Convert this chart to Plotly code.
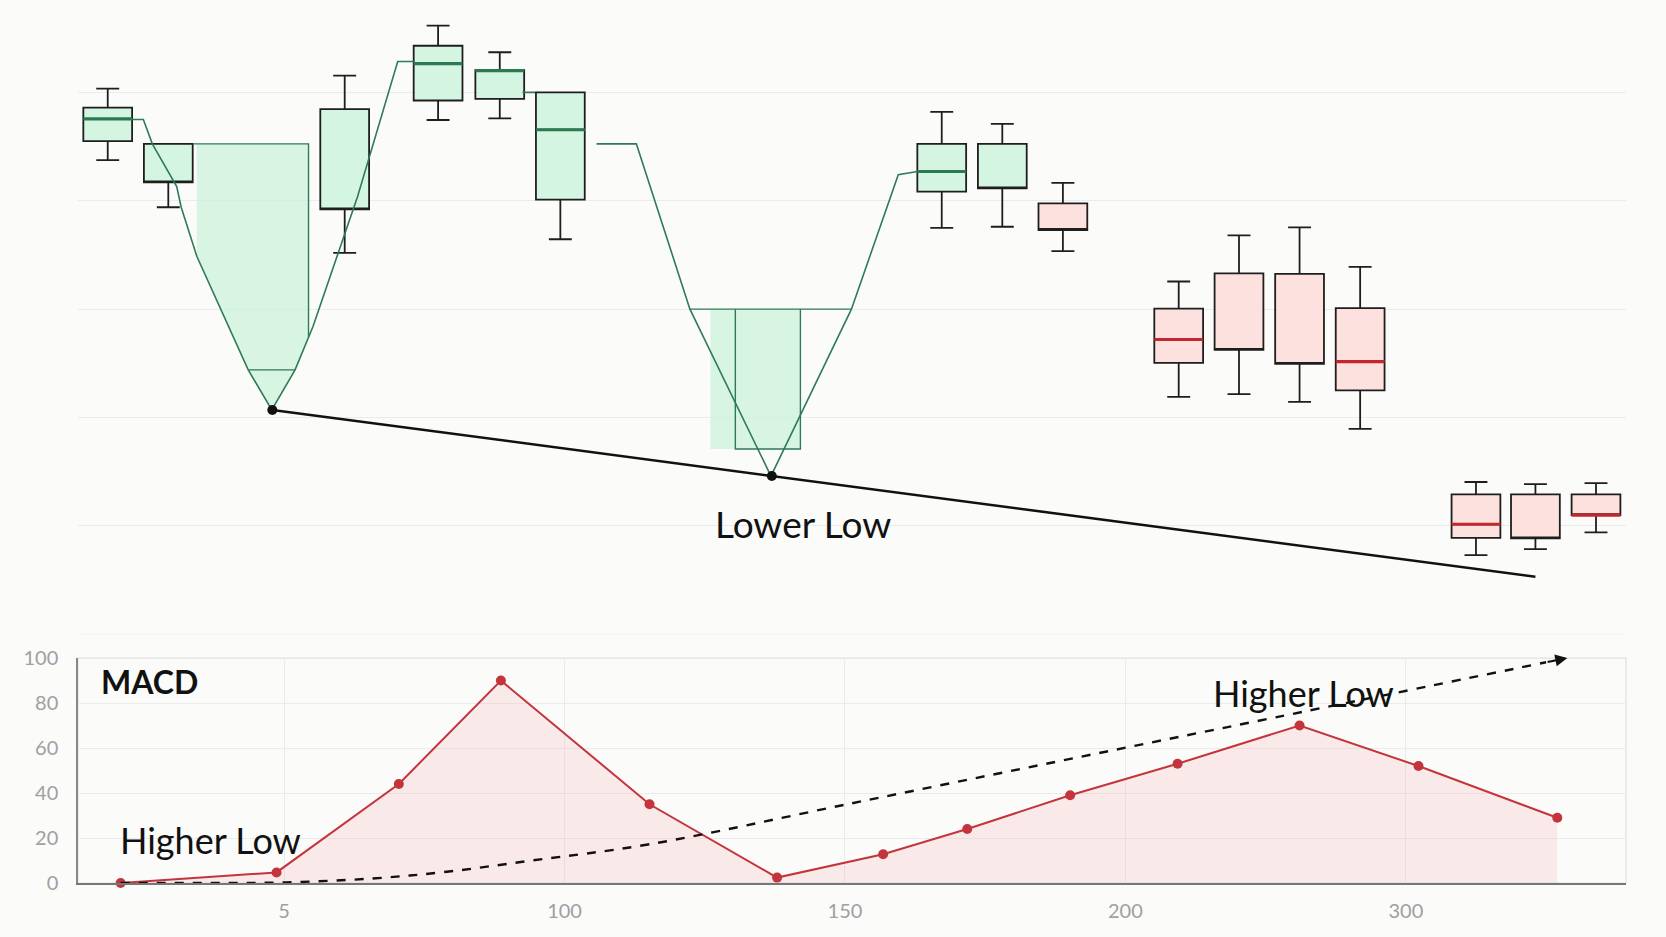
import plotly.graph_objects as go

# ---------------- data ----------------
tick_vals = [10, 20, 30, 40, 50]
tick_text = ["5", "100", "150", "200", "300"]

# top panel: green boxes
g_pos = [3.71, 5.87, 12.16, 15.49, 17.69, 19.85, 33.45, 35.61]
g_q1 = [91.0, 83.4, 78.4, 98.5, 98.8, 80.2, 81.7, 82.3]
g_q3 = [97.2, 90.5, 96.9, 108.6, 104.1, 100.0, 90.5, 90.5]
g_lo = [87.5, 78.8, 70.4, 94.9, 95.2, 72.9, 75.0, 75.2]
g_hi = [100.7, 90.5, 103.1, 112.3, 107.4, 100.0, 96.4, 94.2]
g_med = [95.1, None, None, 105.3, 104.0, 93.1, 85.4, None]

# top panel: red boxes
r_pos = [37.77, 41.90, 44.05, 46.21, 48.37, 52.50, 54.62, 56.78]
r_q1 = [74.6, 50.1, 52.5, 49.9, 45.0, 17.8, 17.7, 22.0]
r_q3 = [79.5, 60.1, 66.6, 66.5, 60.2, 25.8, 25.8, 25.8]
r_lo = [70.7, 43.8, 44.3, 42.9, 37.9, 14.6, 15.7, 18.8]
r_hi = [83.3, 65.1, 73.6, 75.1, 67.8, 28.1, 27.7, 27.9]
r_med = [None, 54.4, None, None, 50.3, 20.3, None, 22.0]

box_width = 1.74

# price path (green line)
price_x = [4.58, 4.98, 5.30, 6.17, 6.33, 6.89, 8.72, 9.56, 10.39, 11.03, 12.62, 14.05, 14.66, None,
           18.50, 18.95, None,
           21.14, 22.56, 24.47, 27.36, 30.23, 31.90, 32.58]
price_y = [95.0, 95.0, 90.5, 82.6, 78.8, 69.7, 48.8, 41.4, 48.8, 56.8, 80.8, 105.7, 105.7, None,
           100.0, 100.0, None,
           90.5, 90.5, 60.0, 29.2, 60.0, 84.8, 85.4]

# trough fills
trough1_x = [6.88, 10.87, 10.87, 10.39, 9.56, 8.72, 6.89, 6.88]
trough1_y = [90.5, 90.5, 54.8, 48.8, 41.4, 48.8, 69.7, 90.5]
trough1_edge_x = [6.77, 10.87, 10.87, None, 8.72, 10.39]
trough1_edge_y = [90.5, 90.5, 54.8, None, 48.8, 48.8]
trough2_x = [25.20, 28.41, 28.41, 25.20, 25.20]
trough2_y = [60.0, 60.0, 34.2, 34.2, 60.0]
trough2_edge_x = [24.47, 30.23, None, 26.09, 26.09, 28.41, 28.41]
trough2_edge_y = [60.0, 60.0, None, 60.0, 34.2, 34.2, 60.0]

# lower-low trend line
trend_x = [9.58, 27.39, 54.62]
trend_y = [41.4, 29.2, 10.6]
low_pts_x = [9.58, 27.39]
low_pts_y = [41.4, 29.2]

# MACD panel
macd_x = [4.17, 9.73, 14.09, 17.73, 23.03, 27.58, 31.36, 34.36, 38.03, 41.86, 46.21, 50.45, 55.40]
macd_y = [0.0, 4.7, 44.0, 90.0, 35.0, 2.4, 12.8, 24.0, 39.0, 53.0, 70.0, 52.0, 29.0]

hl_x = [4.17, 7.46, 10.08, 13.14, 15.80, 18.83, 23.07, 30.19, 37.77, 45.34, 55.0]
hl_y = [0.0, 0.0, 0.3, 2.0, 5.0, 10.0, 17.3, 35.3, 54.5, 73.6, 98.1]
arrow_tip = (55.76, 100.0)

# ---------------- figure ----------------
GREEN_LINE = "#2f7a57"
GREEN_FILL = "rgba(205,243,220,0.85)"
RED_FILL = "rgba(253,222,220,0.9)"
BOX_EDGE = "#1e1e1e"
RED_MED = "#c4262e"
GREEN_MED = "#2b7a52"
MACD_RED = "#c4343c"

fig = go.Figure()


def med_segments(pos, med):
    xs, ys = [], []
    for p, m in zip(pos, med):
        if m is None:
            continue
        xs += [p - box_width / 2, p + box_width / 2, None]
        ys += [m, m, None]
    return xs, ys


for pos, q1, q3, lo, hi, med, fill in [
    (g_pos, g_q1, g_q3, g_lo, g_hi, g_med, GREEN_FILL),
    (r_pos, r_q1, r_q3, r_lo, r_hi, r_med, RED_FILL),
]:
    fig.add_trace(go.Box(
        x=pos, q1=q1, q3=q3, lowerfence=lo, upperfence=hi,
        median=[m if m is not None else a for m, a in zip(med, q1)],
        width=box_width, whiskerwidth=0.47, fillcolor=fill,
        line=dict(color=BOX_EDGE, width=1.8), boxpoints=False,
        xaxis="x2", yaxis="y2", showlegend=False, hoverinfo="skip",
    ))

# trough fills
fig.add_trace(go.Scatter(x=trough1_x, y=trough1_y, fill="toself", fillcolor="rgba(200,242,215,0.7)",
                         line=dict(width=0), mode="lines", xaxis="x2", yaxis="y2", showlegend=False))
fig.add_trace(go.Scatter(x=trough2_x, y=trough2_y, fill="toself", fillcolor="rgba(200,242,215,0.7)",
                         line=dict(width=0), mode="lines", xaxis="x2", yaxis="y2", showlegend=False))
fig.add_trace(go.Scatter(x=trough1_edge_x, y=trough1_edge_y, mode="lines",
                         line=dict(color=GREEN_LINE, width=1.4), xaxis="x2", yaxis="y2", showlegend=False))
fig.add_trace(go.Scatter(x=trough2_edge_x, y=trough2_edge_y, mode="lines",
                         line=dict(color=GREEN_LINE, width=1.4), xaxis="x2", yaxis="y2", showlegend=False))

# price path
fig.add_trace(go.Scatter(x=price_x, y=price_y, mode="lines", connectgaps=False,
                         line=dict(color=GREEN_LINE, width=1.6), xaxis="x2", yaxis="y2", showlegend=False))

# medians
mx, my = med_segments(g_pos, g_med)
fig.add_trace(go.Scatter(x=mx, y=my, mode="lines", line=dict(color=GREEN_MED, width=3.2),
                         xaxis="x2", yaxis="y2", showlegend=False))
mx, my = med_segments(r_pos, r_med)
fig.add_trace(go.Scatter(x=mx, y=my, mode="lines", line=dict(color=RED_MED, width=3.2),
                         xaxis="x2", yaxis="y2", showlegend=False))

# trend line + lows
fig.add_trace(go.Scatter(x=trend_x, y=trend_y, mode="lines", line=dict(color="#111111", width=2.5),
                         xaxis="x2", yaxis="y2", showlegend=False))
fig.add_trace(go.Scatter(x=low_pts_x, y=low_pts_y, mode="markers", marker=dict(color="#111111", size=10),
                         xaxis="x2", yaxis="y2", showlegend=False))

# MACD
fig.add_trace(go.Scatter(x=macd_x, y=macd_y, mode="lines+markers", fill="tozeroy",
                         fillcolor="rgba(240,140,140,0.15)",
                         line=dict(color=MACD_RED, width=2),
                         marker=dict(color=MACD_RED, size=10),
                         xaxis="x", yaxis="y", showlegend=False, cliponaxis=False))
fig.add_trace(go.Scatter(x=hl_x, y=hl_y, mode="lines", line=dict(color="#111111", width=2.4, dash="dash", shape="spline"),
                         xaxis="x", yaxis="y", showlegend=False))

X_RANGE = [2.65, 57.85]
grid_c = "#ebebeb"
tick_font = dict(family="Lato", size=20, color="#a0a0a0")

fig.update_layout(
    width=1666, height=937,
    margin=dict(l=78, r=40, t=10, b=54, autoexpand=False),
    paper_bgcolor="#fbfbfa", plot_bgcolor="rgba(0,0,0,0)",
    font=dict(family="Lato", color="#111111"),
    showlegend=False,
    xaxis=dict(domain=[0, 1], range=X_RANGE, anchor="y", tickvals=tick_vals, ticktext=tick_text,
               showgrid=True, gridcolor=grid_c, zeroline=False, showline=True, linecolor="#777777",
               linewidth=1.5, ticks="", tickfont=tick_font, ticklabelstandoff=9, automargin=False),
    yaxis=dict(domain=[0, 0.2577], range=[0, 100], anchor="x", tickvals=[0, 20, 40, 60, 80, 100],
               showgrid=True, gridcolor=grid_c, zeroline=False, showline=True, linecolor="#888888",
               linewidth=1.5, ticks="", tickfont=tick_font, ticklabelstandoff=14, automargin=False),
    xaxis2=dict(domain=[0, 1], range=X_RANGE, anchor="y2", matches="x", showticklabels=False,
                showgrid=False, zeroline=False, showline=False, ticks="", automargin=False),
    yaxis2=dict(domain=[0.2849, 1], range=[0, 115.2], anchor="x2", tickvals=[0, 20, 40, 60, 80, 100],
                showticklabels=False, showgrid=True, gridcolor=grid_c, zeroline=False, showline=False,
                ticks="", automargin=False),
)

# light border around MACD panel
fig.add_shape(type="rect", xref="paper", yref="paper", x0=0, x1=1, y0=0, y1=0.2577,
              line=dict(color="#e2e2e2", width=1.2), layer="below")
# line under top panel
fig.add_shape(type="line", xref="paper", yref="y2", x0=0, x1=1, y0=0, y1=0,
              line=dict(color="#e6e6e6", width=1.2), layer="below")

fig.add_annotation(x=arrow_tip[0], y=arrow_tip[1], ax=hl_x[-1], ay=hl_y[-1], xref="x", yref="y",
                   axref="x", ayref="y", showarrow=True, arrowhead=2, arrowsize=1.1, arrowwidth=2.2,
                   arrowcolor="#111111", text="")

fig.add_annotation(x=28.52, y=20.4, xref="x2", yref="y2", text="Lower Low", showarrow=False,
                   font=dict(family="Lato", size=37, color="#111111"))
fig.add_annotation(x=5.19, y=89.6, xref="x", yref="y", text="<b>MACD</b>", showarrow=False,
                   font=dict(family="Lato", size=32, color="#111111"))
fig.add_annotation(x=7.39, y=19.0, xref="x", yref="y", text="Higher Low", showarrow=False,
                   font=dict(family="Lato", size=36, color="#111111"))
fig.add_annotation(x=46.36, y=84.4, xref="x", yref="y", text="Higher Low", showarrow=False,
                   font=dict(family="Lato", size=36, color="#111111"))

fig.write_html("out.html")
